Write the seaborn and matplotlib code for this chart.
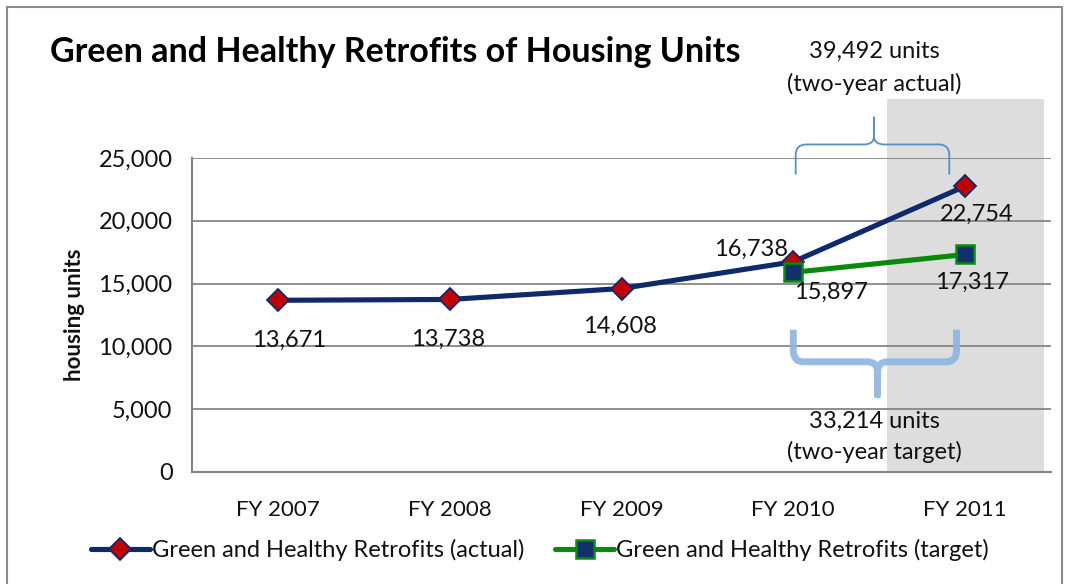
import matplotlib
matplotlib.use("Agg")
import matplotlib.pyplot as plt
import seaborn as sns
import pandas as pd
from matplotlib.patches import Rectangle, PathPatch
from matplotlib.path import Path
from matplotlib.lines import Line2D

categories = ["FY 2007", "FY 2008", "FY 2009", "FY 2010", "FY 2011"]
actual = [13671, 13738, 14608, 16738, 22754]
target_categories = ["FY 2010", "FY 2011"]
target = [15897, 17317]
yticks = [0, 5000, 10000, 15000, 20000, 25000]
title = "Green and Healthy Retrofits of Housing Units"
ylabel = "housing units"
label_actual = "Green and Healthy Retrofits (actual)"
label_target = "Green and Healthy Retrofits (target)"
note_actual = ["39,492 units", "(two-year actual)"]
note_target = ["33,214 units", "(two-year target)"]

sns.set_style("white")
FONT = ["Lato", "DejaVu Sans"]
plt.rcParams["font.family"] = FONT

W, H, DPI = 1069, 584, 100
fig = plt.figure(figsize=(W / DPI, H / DPI), dpi=DPI)
ax = fig.add_axes([192 / W, 1 - 472 / H, (1051 - 192) / W, (472 - 158) / H])

pos = {c: i for i, c in enumerate(categories)}
df_a = pd.DataFrame({"x": [pos[c] for c in categories], "y": actual})
df_t = pd.DataFrame({"x": [pos[c] for c in target_categories], "y": target})

navy = "#0E2A6B"
green = "#0A8A0A"
red = "#C00000"
TXT = "#111111"
FS = 17
LW = 3.7

sns.lineplot(data=df_a, x="x", y="y", ax=ax, color=navy, linewidth=LW,
             marker="D", markersize=11.5, markerfacecolor=red,
             markeredgecolor=navy, markeredgewidth=1.3, zorder=4)
sns.lineplot(data=df_t, x="x", y="y", ax=ax, color=green, linewidth=LW,
             marker="s", markersize=13, markerfacecolor="#14306A",
             markeredgecolor=green, markeredgewidth=1.8, zorder=5)

ax.set_xlim(-0.5, len(categories) - 0.5)
ax.set_ylim(0, 25000)
ax.set_yticks(yticks)
ax.set_yticklabels([f"{v:,}" for v in yticks], fontsize=FS, color=TXT)
ax.set_xticks(range(len(categories)))
ax.set_xticklabels(categories, fontsize=16, color=TXT)
ax.set_xticks([i - 0.5 for i in range(len(categories) + 1)], minor=True)
ax.tick_params(axis="x", which="major", length=0, pad=20)
ax.tick_params(axis="x", which="minor", length=7, color="#868686", width=1.3, direction="out")
ax.tick_params(axis="y", length=8, color="#868686", width=1.3, direction="inout", pad=10)
ax.set_xlabel("")
ax.set_ylabel(ylabel, fontsize=16, fontweight="bold", labelpad=10, color=TXT)
ax.grid(axis="y", color="#868686", linewidth=1.3, zorder=1)
ax.grid(axis="x", visible=False)
ax.set_axisbelow(True)
for s in ["top", "right"]:
    ax.spines[s].set_visible(False)
for s in ["left", "bottom"]:
    ax.spines[s].set_color("#868686")
    ax.spines[s].set_linewidth(1.5)

# shaded FY2011 region
ax.add_patch(Rectangle((3.545, 0), 0.915, 29670, facecolor="#DDDDDD",
                       edgecolor="none", zorder=0, clip_on=False))

# data labels
offs_a = [(11, -40), (-2, -40), (-2, -38), (-42, 12), (12, -28)]
offs_t = [(38, -20), (7, -28)]
def lab(xv, yv, off):
    ax.annotate(f"{yv:,}", (xv, yv), xytext=(off[0] * 72 / DPI, off[1] * 72 / DPI),
                textcoords="offset points", ha="center", va="center",
                fontsize=FS, color=TXT, zorder=6)
for (xv, yv), o in zip(df_a.itertuples(index=False), offs_a):
    lab(xv, yv, o)
for (xv, yv), o in zip(df_t.itertuples(index=False), offs_t):
    lab(xv, yv, o)

# braces
def brace(x0, x1, xm, y_end, y_bar, y_tip, r, color, lw, alpha=1.0):
    dy = (y_bar - y_end)
    verts = [
        (x0, y_end), (x0, y_bar - 0.35 * dy), (x0, y_bar), (x0 + r, y_bar),
        (xm - r, y_bar), (xm, y_bar), (xm, y_bar + 0.3 * (y_tip - y_bar)), (xm, y_tip),
        (xm, y_bar + 0.3 * (y_tip - y_bar)), (xm, y_bar), (xm + r, y_bar),
        (x1 - r, y_bar), (x1, y_bar), (x1, y_bar - 0.35 * dy), (x1, y_end),
    ]
    codes = [Path.MOVETO, Path.LINETO, Path.CURVE3, Path.CURVE3,
             Path.LINETO, Path.CURVE3, Path.CURVE3, Path.LINETO,
             Path.LINETO, Path.CURVE3, Path.CURVE3,
             Path.LINETO, Path.CURVE3, Path.CURVE3, Path.LINETO]
    ax.add_patch(PathPatch(Path(verts, codes), facecolor="none", edgecolor=color,
                           linewidth=lw, alpha=alpha, clip_on=False, zorder=3,
                           capstyle="butt", joinstyle="round"))

brace(3.014, 3.908, 3.47, 23684, 26077, 28230, 0.06, "#5B8BC9", 1.3)
brace(3.0, 3.95, 3.49, 11324, 8772, 6140, 0.06, "#8DB4E2", 5.0, 0.9)

# notes
ax.text(3.47, 33490, note_actual[0], ha="center", va="center", fontsize=FS, color=TXT)
ax.text(3.47, 30860, note_actual[1], ha="center", va="center", fontsize=FS, color=TXT)
ax.text(3.47, 4067, note_target[0], ha="center", va="center", fontsize=FS, color=TXT, zorder=6)
ax.text(3.47, 1595, note_target[1], ha="center", va="center", fontsize=FS, color=TXT, zorder=6)

# title
fig.text(50 / W, 1 - 52 / H, title, ha="left", va="center", fontsize=24.5,
         fontweight="bold", color="#000000")

# outer frame
fig.add_artist(Rectangle((7 / W, -0.05), (1062 - 7) / W, 1.05 - 7 / H,
                         transform=fig.transFigure, facecolor="none",
                         edgecolor="#8C8C8C", linewidth=1.5, clip_on=False))

handles = [
    Line2D([], [], color=navy, linewidth=LW, marker="D", markersize=11.5,
           markerfacecolor=red, markeredgecolor=navy, markeredgewidth=1.3),
    Line2D([], [], color=green, linewidth=LW, marker="s", markersize=13,
           markerfacecolor="#14306A", markeredgecolor=green, markeredgewidth=1.8),
]
fig.legend(handles, [label_actual, label_target], loc="center",
           bbox_to_anchor=(0.505, 1 - 550 / H), ncol=2, frameon=False,
           fontsize=FS, handlelength=2.5, handletextpad=0.1, columnspacing=1.3,
           labelcolor=TXT)

fig.savefig("out.png", dpi=DPI)
